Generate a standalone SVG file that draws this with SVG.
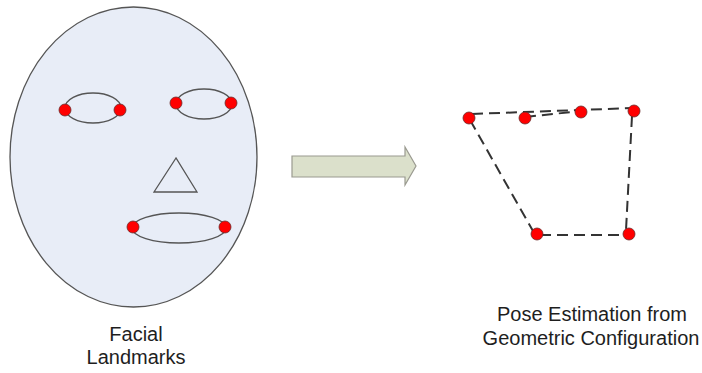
<svg xmlns="http://www.w3.org/2000/svg" width="702" height="373" viewBox="0 0 702 373">
<style>
.feat{fill:none;stroke:#555;stroke-width:1.3}
.dot{fill:#ff0000;stroke:#6a2a2a;stroke-width:0.8}
.dash{fill:none;stroke:#333;stroke-width:2;stroke-dasharray:11,6}
.lbl{font-family:"Liberation Sans",Arial,sans-serif;font-size:20px;fill:#1e1e1e;text-anchor:middle}
</style>
<rect width="702" height="373" fill="#ffffff"/>
<g id="face">
<ellipse cx="133.5" cy="157" rx="123.5" ry="150" fill="#e8edf7" stroke="#555" stroke-width="1.3"/>
<ellipse class="feat" cx="93" cy="108" rx="28" ry="15"/>
<ellipse class="feat" cx="204" cy="104" rx="28" ry="15"/>
<polygon class="feat" points="176,158 154,192 197,192"/>
<ellipse class="feat" cx="179" cy="228" rx="47" ry="15"/>
<circle class="dot" cx="65" cy="110" r="6"/>
<circle class="dot" cx="120" cy="110" r="6"/>
<circle class="dot" cx="176" cy="103" r="6"/>
<circle class="dot" cx="231" cy="103" r="6"/>
<circle class="dot" cx="133" cy="227" r="6"/>
<circle class="dot" cx="225" cy="227" r="6"/>
</g>
<g id="arrow">
<polygon points="292,156 405,156 405,147 416,166 405,185 405,177 292,177" fill="#dbe0cb" stroke="#9a9a90" stroke-width="1.2"/>
</g>
<g id="connectors">
<line class="dash" x1="472" y1="114" x2="632" y2="108"/>
<line class="dash" x1="525" y1="117" x2="581" y2="111"/>
<line class="dash" x1="632" y1="116" x2="626" y2="230"/>
<line class="dash" x1="470" y1="120" x2="533" y2="231"/>
<line class="dash" x1="540" y1="235" x2="628" y2="235"/>
</g>
<g id="pose">
<circle class="dot" cx="469" cy="118" r="6"/>
<circle class="dot" cx="525" cy="118" r="6"/>
<circle class="dot" cx="581" cy="112" r="6"/>
<circle class="dot" cx="634" cy="111" r="6"/>
<circle class="dot" cx="537" cy="234" r="6"/>
<circle class="dot" cx="629" cy="234" r="6"/>
</g>
<g id="label-face">
<text class="lbl" x="136" y="341">Facial</text>
<text class="lbl" x="136" y="364">Landmarks</text>
</g>
<g id="label-pose">
<text class="lbl" x="592" y="321">Pose Estimation from</text>
<text class="lbl" x="591" y="345">Geometric Configuration</text>
</g>
</svg>
